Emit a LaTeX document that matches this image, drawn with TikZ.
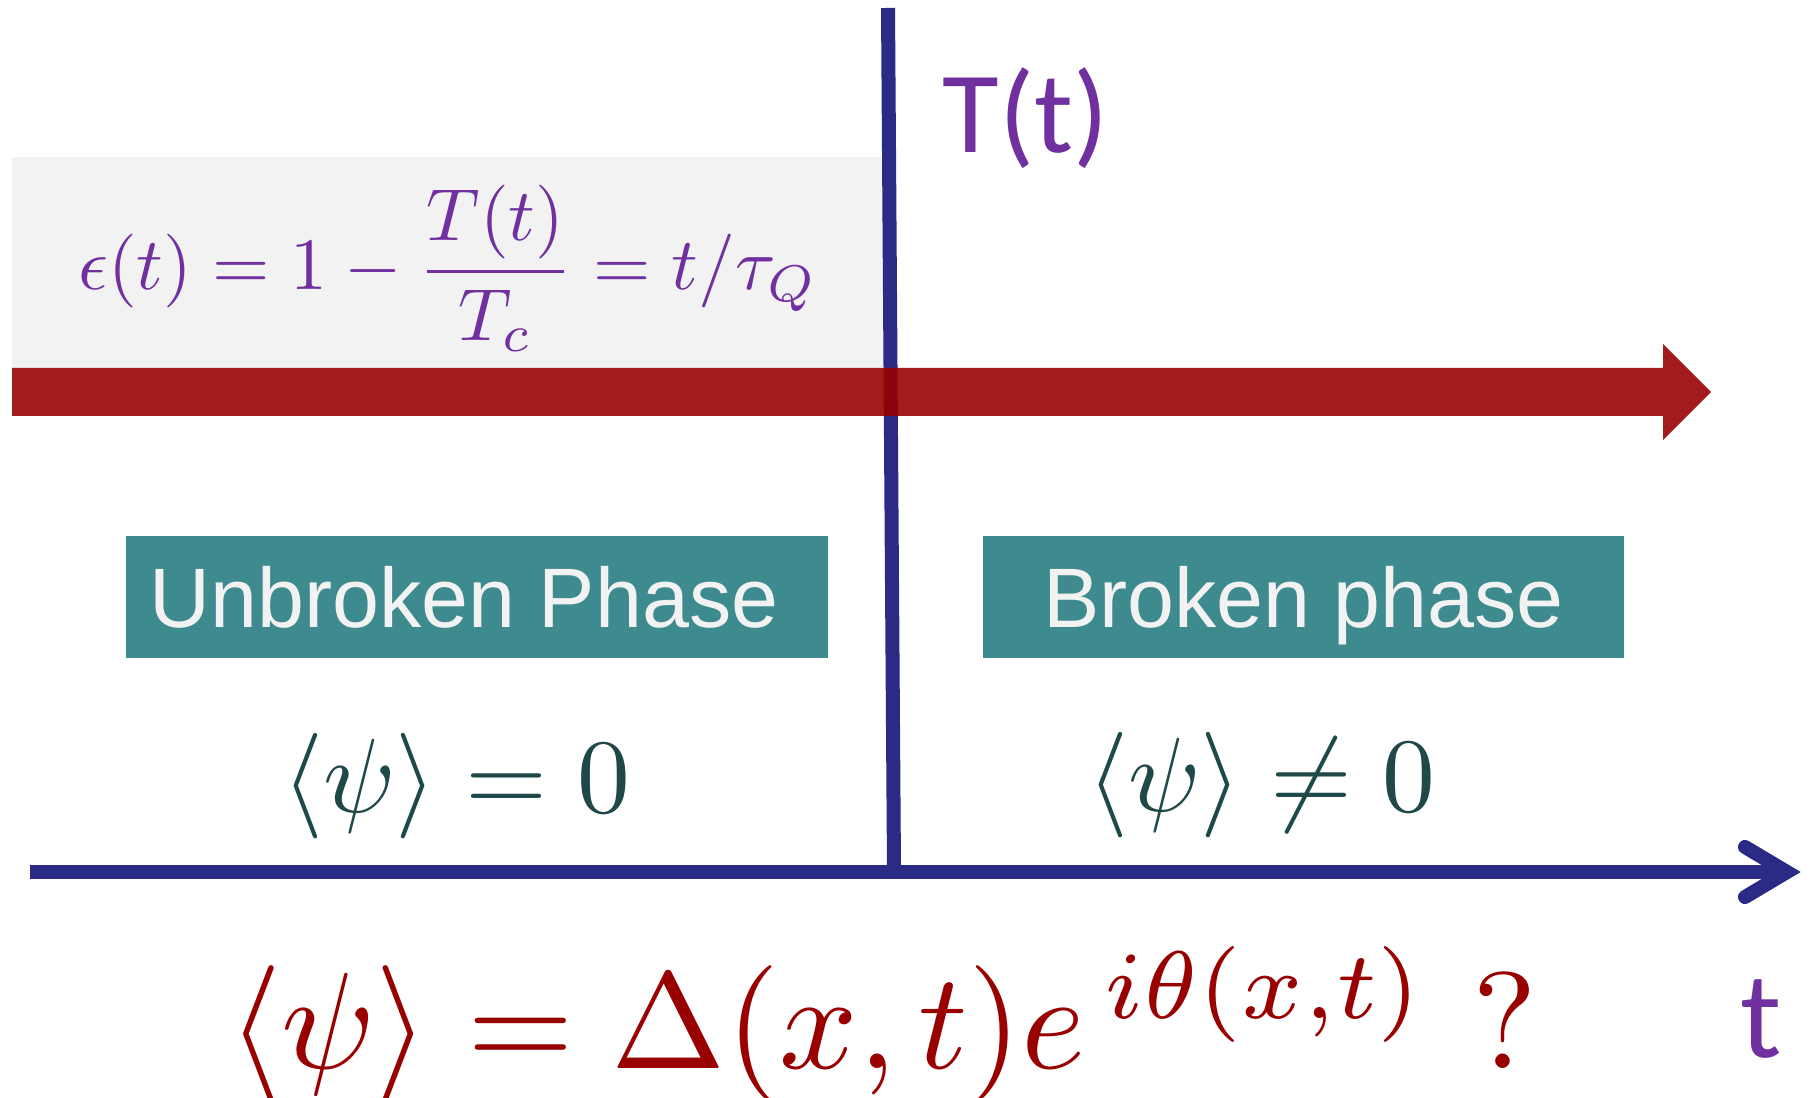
\documentclass[tikz,border=0pt]{standalone}
\usepackage{amsmath}
\usepackage{fontspec}
\newfontfamily\arialf{Liberation Sans}
\newfontfamily\calf{Carlito}
\definecolor{graybg}{HTML}{F2F2F2}
\definecolor{barred}{HTML}{970000}
\definecolor{axisblue}{HTML}{2B2A85}
\definecolor{tealbox}{HTML}{3D8A8F}
\definecolor{boxtext}{HTML}{F2F2F2}
\definecolor{psicol}{HTML}{1F4849}
\definecolor{ordred}{HTML}{990000}
\definecolor{purp}{HTML}{7030A0}
\begin{document}
\begin{tikzpicture}[x=0.01cm,y=-0.01cm,
  axisline/.style={draw=axisblue, line width=0.14cm},
  phasebox/.style={fill=tealbox, draw=none, inner sep=0pt, minimum height=1.22cm,
     text=boxtext, font=\arialf\fontsize{24}{28}\selectfont, text height=0.6cm, text depth=0pt},
  psilabel/.style={text=psicol, inner sep=0pt, anchor=base},
  purplabel/.style={text=purp, inner sep=0pt, anchor=base west}]
\useasboundingbox (0,0) rectangle (1810,1098);
% grey band behind the formula
\fill[graybg] (12,157) rectangle (886,368);
% vertical T(t) line
\coordinate (vtop) at (888,8);
\coordinate (vbot) at (894,872);
\draw[axisline] (vtop) -- (vbot);
% red arrow
\fill[barred, opacity=0.89] (12,368) -- (1663,368) -- (1663,344) -- (1711,392) -- (1663,440) -- (1663,416) -- (12,416) -- cycle;
% time axis
\coordinate (a0) at (30,872);
\coordinate (a1) at (1787,872);
\coordinate (au) at (1745,847);
\coordinate (ad) at (1745,897);
\draw[axisline] (a0) -- (a1);
\draw[axisline, line cap=round, line join=miter] (au) -- (a1) -- (ad);
% formula
\node[text=purp, inner sep=0pt, anchor=base] (eps) at (448,290)
  {\scalebox{2.1}{$\displaystyle \epsilon(t) = 1 - \frac{T(t)\rule[-0.3ex]{0pt}{1ex}}{T_c} = t/\tau_Q$}};
% labels
\node[purplabel, font=\calf\fontsize{33}{40}\selectfont] (Tt) at (942,153) {T(t)};
\node[purplabel, font=\calf\fontsize{35}{42}\selectfont] (tl) at (1740,1057) {t};
% phase boxes
\node[phasebox, minimum width=7.02cm] (unb) at (477,597) {\hspace*{-0.26cm}Unbroken Phase};
\node[phasebox, minimum width=6.41cm] (brk) at (1303.5,597) {Broken phase};
% order parameter
\node[psilabel] (psi0) at (456,812) {\scalebox{3}{$\langle\psi\rangle = 0$}};
\node[psilabel] (psi1) at (1261,811) {\scalebox{3}{$\langle\psi\rangle \neq 0$}};
\node[text=ordred, inner sep=0pt, anchor=base] (ord) at (883,1068)
  {\scalebox{3.9}{$\langle\psi\rangle = \Delta(x,t)e^{\,i\theta(x,t)}$\ ?}};
\end{tikzpicture}
\end{document}
